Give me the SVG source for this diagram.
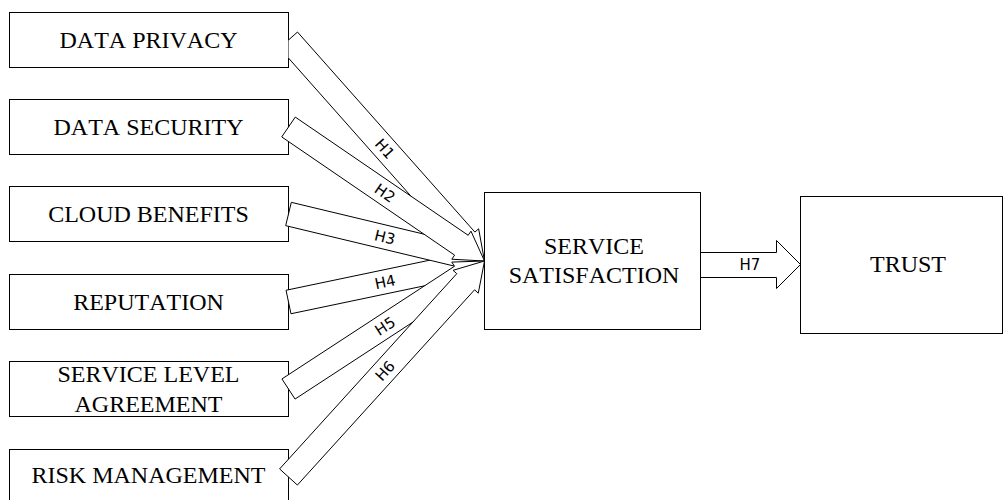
<svg xmlns="http://www.w3.org/2000/svg" width="1004" height="500" viewBox="0 0 1004 500">
<style>
.box{fill:#fff;stroke:#000;stroke-width:1}
.arr{fill:#fff;stroke:#000;stroke-width:1;stroke-linejoin:miter}
.t{font-family:"Liberation Serif","Times New Roman",serif;font-size:24px;fill:#000;text-anchor:middle;font-kerning:none}
.lbl{font-family:"DejaVu Sans","Liberation Sans",sans-serif;font-size:15px;fill:#000;text-anchor:middle}
</style>
<rect width="1004" height="500" fill="#fff"/>
<g id="n1"><rect class="box" x="9.5" y="12.5" width="279" height="55"/><text class="t" x="148.5" y="47.5">DATA PRIVACY</text></g>
<g id="n2"><rect class="box" x="9.5" y="99.5" width="279" height="55"/><text class="t" x="148.5" y="134.5">DATA SECURITY</text></g>
<g id="n3"><rect class="box" x="9.5" y="186.5" width="279" height="55"/><text class="t" x="148.5" y="221.5">CLOUD BENEFITS</text></g>
<g id="n4"><rect class="box" x="9.5" y="274.5" width="279" height="55"/><text class="t" x="148.5" y="310">REPUTATION</text></g>
<g id="n5"><rect class="box" x="9.5" y="361.5" width="279" height="55"/><text class="t" x="148.5" y="382">SERVICE LEVEL</text><text class="t" x="148.5" y="411.5">AGREEMENT</text></g>
<g id="n6"><rect class="box" x="9.5" y="449.5" width="279" height="60"/><text class="t" x="148.5" y="482.5">RISK MANAGEMENT</text></g>
<g id="connectors">
<path class="arr" d="M288.5,58.09 L456.94,248.01 L453.2,251.33 L484.5,261 L478.64,228.77 L474.9,232.09 L297.48,32.04 L288.5,40"/>
<polygon class="arr" points="290.96,313.75 459.55,278.48 460.57,283.37 484.5,261 453.61,250.09 454.63,254.98 286.04,290.25"/>
<polygon class="arr" points="285.7,225.67 454.47,266.14 453.31,271.0 484.5,261 461.23,237.94 460.07,242.8 291.3,202.33"/>
<polygon class="arr" points="281.73,136.91 454.62,255.11 451.8,259.23 484.5,261 470.98,231.17 468.16,235.29 295.27,117.09"/>
<polygon class="arr" points="295.06,399.05 467.62,286.36 470.36,290.54 484.5,261 451.76,262.08 454.5,266.26 281.94,378.95"/>
<polygon class="arr" points="297.39,485.06 474.57,289.8 478.27,293.16 484.5,261 453.09,270.32 456.79,273.68 279.61,468.94"/>
<polygon class="arr" points="700.5,252.5 776.5,252.5 776.5,240.5 800.5,264.5 776.5,288.5 776.5,277.5 700.5,277.5"/>
<text class="lbl" x="385" y="148.8" dy="0.36em" transform="rotate(48.43 385 148.8)">H1</text>
<text class="lbl" x="385" y="193" dy="0.36em" transform="rotate(34.36 385 193)">H2</text>
<text class="lbl" x="385" y="237.1" dy="0.36em" transform="rotate(13.49 385 237.1)">H3</text>
<text class="lbl" x="385" y="281.8" dy="0.36em" transform="rotate(-11.81 385 281.8)">H4</text>
<text class="lbl" x="385" y="326" dy="0.36em" transform="rotate(-33.15 385 326)">H5</text>
<text class="lbl" x="385" y="370.7" dy="0.36em" transform="rotate(-47.78 385 370.7)">H6</text>
<text class="lbl" x="750" y="265" dy="0.36em">H7</text>
</g>
<g id="n7"><rect class="box" x="484.5" y="192.5" width="216" height="137"/><text class="t" x="594" y="254">SERVICE</text><text class="t" x="594" y="282.5">SATISFACTION</text></g>
<g id="n8"><rect class="box" x="800.5" y="196.5" width="202" height="137"/><text class="t" x="908" y="272">TRUST</text></g>
</svg>
